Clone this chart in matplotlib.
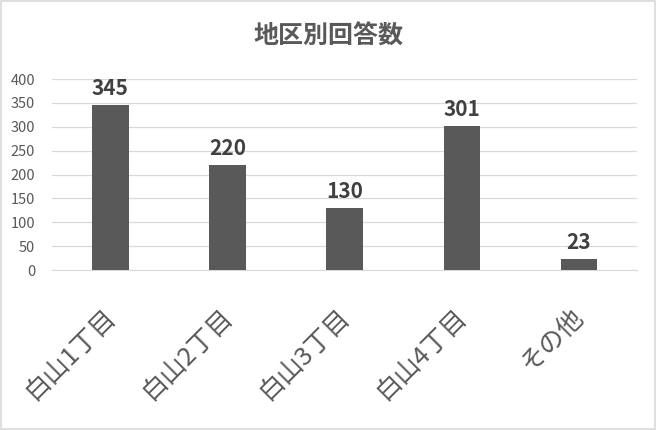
import matplotlib
matplotlib.use("Agg")
import matplotlib.pyplot as plt
from matplotlib.patches import Rectangle
from matplotlib.transforms import ScaledTranslation

plt.rcParams['font.family'] = ['Noto Sans CJK JP', 'DejaVu Sans']

# data
areas = ["白山1丁目", "白山2丁目", "白山3丁目", "白山4丁目", "その他"]
counts = [345, 220, 130, 301, 23]
y_ticks = [0, 50, 100, 150, 200, 250, 300, 350, 400]

fig = plt.figure(figsize=(6.57, 4.30), dpi=100)
ax = fig.add_axes([0.079, 0.372, 0.891, 0.444])

x = range(len(areas))
bars = ax.bar(x, counts, width=0.31, color="#595959", zorder=3)

ax.set_xlim(-0.5, len(areas) - 0.5)
ax.set_ylim(0, 400)
ax.set_yticks(y_ticks)
ax.yaxis.grid(True, color="#d9d9d9", linewidth=0.9, zorder=0)
ax.tick_params(axis="y", length=0, labelsize=10.5, labelcolor="#595959", pad=12)
ax.tick_params(axis="x", length=0, pad=24)
for s in ["top", "right", "left"]:
    ax.spines[s].set_visible(False)
ax.spines["bottom"].set_color("#d9d9d9")

ax.set_xticks(list(x))
ax.set_xticklabels(areas, rotation=45, ha="right", va="top",
                   rotation_mode="anchor", fontsize=18.5, color="#595959")
shift = ScaledTranslation(-8 / 100, 0, fig.dpi_scale_trans)
for lab in ax.get_xticklabels():
    lab.set_transform(lab.get_transform() + shift)

# value labels
for b, v in zip(bars, counts):
    ax.text(b.get_x() + b.get_width() / 2, v + 13, str(v), ha="center", va="bottom",
            fontsize=15, fontweight="bold", color="#404040")

fig.text(0.5, 0.916, "地区別回答数", ha="center", va="center",
         fontsize=18, fontweight="bold", color="#595959")

# chart border
fig.patches.append(Rectangle((0.002, 0.003), 0.995, 0.994, transform=fig.transFigure,
                             fill=False, edgecolor="#d9d9d9", linewidth=1.2))

fig.savefig("out.png", dpi=100)
